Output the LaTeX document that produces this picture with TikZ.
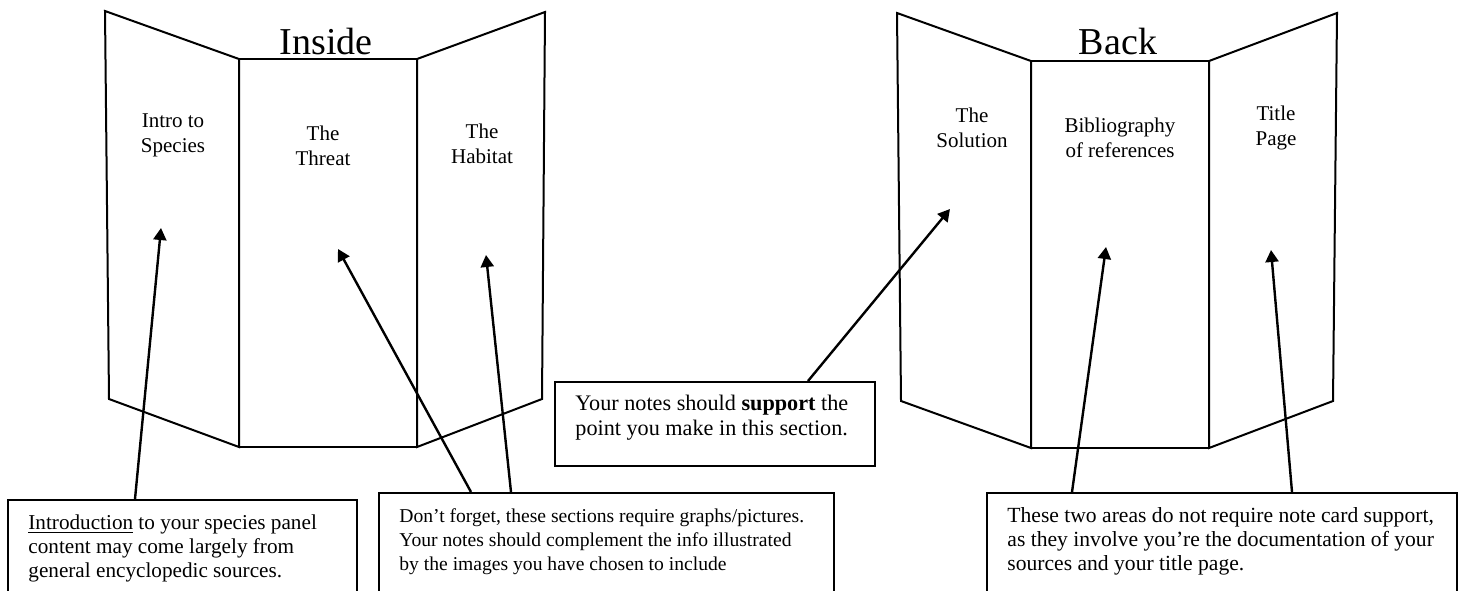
\documentclass[tikz,border=0pt]{standalone}
\usepackage{fontspec}
\setmainfont{Liberation Serif}
\usetikzlibrary{arrows.meta}
\begin{document}
\begin{tikzpicture}[x=0.5pt,y=-0.5pt,
  panel/.style={draw=black, line width=1pt, line join=miter},
  notebox/.style={draw=black, line width=1pt, anchor=north west, inner sep=0pt, rectangle},
  lbl/.style={inner sep=0pt, anchor=base, align=center, font=\fontsize{10.5}{12.5}\selectfont},
  ttl/.style={inner sep=0pt, anchor=base, font=\fontsize{19}{22}\selectfont},
  note/.style={inner sep=0pt, anchor=base west, align=left, font=\fontsize{10.6}{12}\selectfont},
  pointer/.style={draw=black, line width=1.2pt, -{Triangle[length=6pt,width=6.5pt]}}]
\useasboundingbox (0,0) rectangle (1460,590);
\clip (0,0) rectangle (1460,590);
% Inside tri-fold
\draw[panel] (105,11) -- (239,59) -- (239,447) -- (109,399) -- cycle;
\draw[panel] (239,59) -- (417,59) -- (417,447) -- (239,447) -- cycle;
\draw[panel] (417,59) -- (545,12) -- (542,399) -- (417,447) -- cycle;
% Back tri-fold
\draw[panel] (897,13) -- (1031,61) -- (1031,448) -- (901,401) -- cycle;
\draw[panel] (1031,61) -- (1209,61) -- (1209,448) -- (1031,448) -- cycle;
\draw[panel] (1209,61) -- (1337,13) -- (1333,401) -- (1209,448) -- cycle;
% titles
\node[ttl] (inside) at (326,54) {Inside};
\node[ttl] (back) at (1118,54) {Back};
% panel labels (anchor = baseline of the last line)
\node[lbl] (intro) at (173,152) {Intro to\\Species};
\node[lbl] (threat) at (323,165) {The\\Threat};
\node[lbl] (habitat) at (482,163) {The\\Habitat};
\node[lbl] (solution) at (972,147) {The\\Solution};
\node[lbl] (biblio) at (1120,157) {Bibliography\\of references};
\node[lbl] (titlepg) at (1276,145) {Title\\Page};
% note boxes
\node[notebox, minimum width=174.5pt, minimum height=70pt] (b1) at (7,499) {};
\node[notebox, minimum width=227.5pt, minimum height=74pt] (b2) at (378,492) {};
\node[notebox, minimum width=160pt, minimum height=42pt] (b3) at (554,381) {};
\node[notebox, minimum width=235pt, minimum height=74pt] (b4) at (986,492) {};
% note texts (anchor = baseline of the last line)
\node[note] (t1) at (28,577) {\underline{Introduction} to your species panel\\content may come largely from\\general encyclopedic sources.};
\node[note, font=\fontsize{9.8}{12}\selectfont] (t2) at (399,570) {Don’t forget, these sections require graphs/pictures.\\Your notes should complement the info illustrated\\by the images you have chosen to include};
\node[note, font=\fontsize{11.1}{12.5}\selectfont] (t3) at (575,435) {Your notes should \textbf{support} the\\point you make in this section.};
\node[note, font=\fontsize{10.8}{11.8}\selectfont] (t4) at (1007,570) {These two areas do not require note card support,\\as they involve you’re the documentation of your\\sources and your title page.};
% connector end points
\coordinate (s1) at (135,499);
\coordinate (e1) at (161,228);
\coordinate (s2) at (471,492);
\coordinate (e2) at (338,249);
\coordinate (s3) at (511,492);
\coordinate (e3) at (486,255);
\coordinate (s4) at (808,381);
\coordinate (e4) at (950,209);
\coordinate (s5) at (1072,492);
\coordinate (e5) at (1106,247);
\coordinate (s6) at (1292,492);
\coordinate (e6) at (1271,250);
\draw[pointer] (s1) -- (e1);
\draw[pointer] (s2) -- (e2);
\draw[pointer] (s3) -- (e3);
\draw[pointer] (s4) -- (e4);
\draw[pointer] (s5) -- (e5);
\draw[pointer] (s6) -- (e6);
\end{tikzpicture}
\end{document}
